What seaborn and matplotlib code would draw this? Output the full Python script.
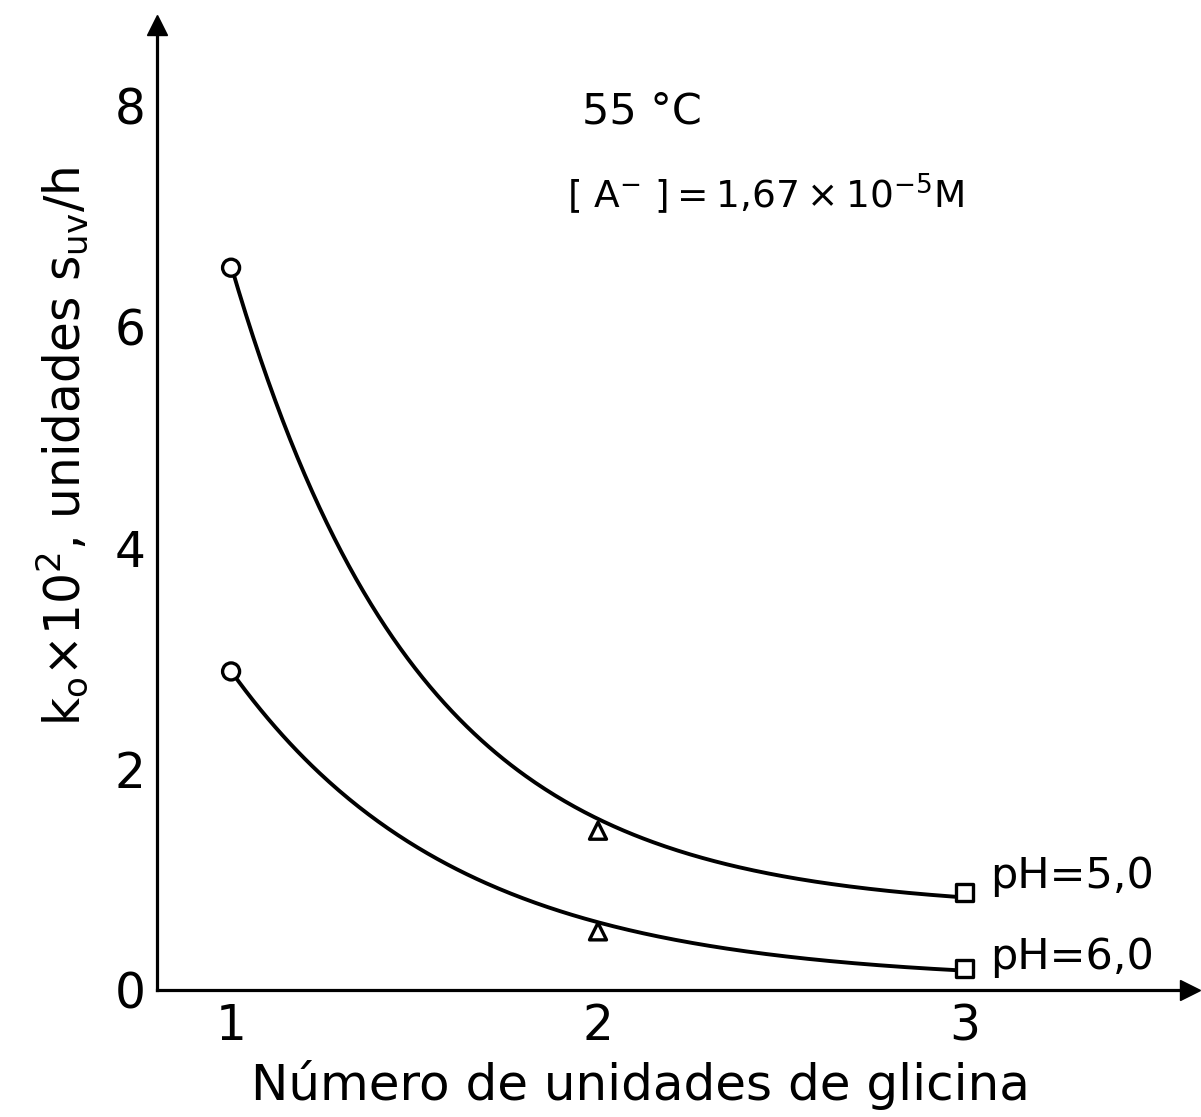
import numpy as np
import pandas as pd
import matplotlib
matplotlib.use("Agg")
import matplotlib.pyplot as plt
import seaborn as sns

# Measured rate constants (k0 x 10^2, s_UV units/h) vs. number of glycine units
glycine_units = [1, 2, 3]
k_ph5 = [6.53, 1.44, 0.88]
k_ph6 = [2.88, 0.53, 0.19]
marker_shapes = ["o", "^", "s"]

# Points sampled along the hand-drawn trend curves
curve5_x = [1.0, 1.134, 1.297, 1.5, 2.0, 2.5, 3.0]
curve5_y = [6.53, 5.24, 3.97, 2.93, 1.53, 0.99, 0.88]
curve6_x = [1.0, 1.41, 2.0, 2.5, 3.0]
curve6_y = [2.88, 1.51, 0.61, 0.29, 0.19]

series_labels = ["pH=5,0", "pH=6,0"]
x_ticks = [1, 2, 3]
y_ticks = [0, 2, 4, 6, 8]


def fit_decay(x, y):
    """Least-squares fit of y = a + b*exp(-c*(x-1)); returns a callable."""
    x = np.asarray(x, float)
    y = np.asarray(y, float)
    best = None
    for c in np.linspace(0.3, 5.0, 2000):
        A = np.column_stack([np.ones_like(x), np.exp(-c * (x - 1))])
        coef, *_ = np.linalg.lstsq(A, y, rcond=None)
        err = np.sum((A @ coef - y) ** 2)
        if best is None or err < best[0]:
            best = (err, c, coef)
    _, c, (a, b) = best
    return lambda t: a + b * np.exp(-c * (np.asarray(t) - 1))


sns.set_theme(style="white")
plt.rcParams["font.family"] = ["DejaVu Sans"]
plt.rcParams["mathtext.fontset"] = "dejavusans"
plt.rcParams["text.color"] = "black"
plt.rcParams["axes.labelcolor"] = "black"
plt.rcParams["xtick.color"] = "black"
plt.rcParams["ytick.color"] = "black"

fig = plt.figure(figsize=(12.01, 11.17), dpi=100)
ax = fig.add_axes([0.1307, 0.1137, 0.860, 0.864])

xs = np.linspace(1, 3, 300)
curves = pd.concat([
    pd.DataFrame({"x": xs, "k": fit_decay(curve5_x, curve5_y)(xs), "serie": series_labels[0]}),
    pd.DataFrame({"x": xs, "k": fit_decay(curve6_x, curve6_y)(xs), "serie": series_labels[1]}),
])
sns.lineplot(data=curves, x="x", y="k", units="serie", estimator=None,
             color="black", linewidth=2.8, ax=ax, zorder=2, legend=False)

points = pd.DataFrame({
    "x": glycine_units * 2,
    "k": k_ph5 + k_ph6,
    "shape": marker_shapes * 2,
})
sns.scatterplot(data=points, x="x", y="k", style="shape",
                markers={"o": "o", "^": "^", "s": "s"},
                s=150, facecolor="white", edgecolor="black", linewidth=2.4,
                ax=ax, zorder=3, legend=False)

ax.set_xlim(0.798, 3.613)
ax.set_ylim(0, 8.725)
ax.set_xticks(x_ticks)
ax.set_yticks(y_ticks)
ax.set_xlabel("")
ax.set_ylabel("")

for side in ["top", "right"]:
    ax.spines[side].set_visible(False)
for side in ["left", "bottom"]:
    ax.spines[side].set_linewidth(2.3)
    ax.spines[side].set_color("black")

ax.tick_params(axis="both", direction="in", length=9, width=1.8,
               colors="black", labelsize=35)
ax.tick_params(axis="y", pad=8)
ax.tick_params(axis="x", pad=9)

# Arrow heads at the ends of both axes
ax.plot(1, 0, marker=">", markersize=15, color="black",
        transform=ax.transAxes, clip_on=False)
ax.plot(0, 1, marker="^", markersize=15, color="black",
        transform=ax.transAxes, clip_on=False)

ax.text(1.956, 7.94, "55 °C", fontsize=31, va="center", ha="left")
ax.text(1.916, 7.19,
        "[ A$^{-}$ ]\u2009=\u20091,67\u2009×\u200910$^{-5}$M",
        fontsize=27, va="center", ha="left")

ax.text(3.068, 1.03, series_labels[0], fontsize=31, va="center", ha="left")
ax.text(3.068, 0.30, series_labels[1], fontsize=31, va="center", ha="left")

fig.text(0.533, 0.029, "Número de unidades de glicina", fontsize=36,
         ha="center", va="center")
fig.text(0.052, 0.60, r"k$_{\mathrm{o}}$×10$^{2}$, unidades s$_{\mathrm{uv}}$/h",
         fontsize=35, rotation=90, ha="center", va="center")

fig.savefig("out.png", dpi=100, facecolor="white")
